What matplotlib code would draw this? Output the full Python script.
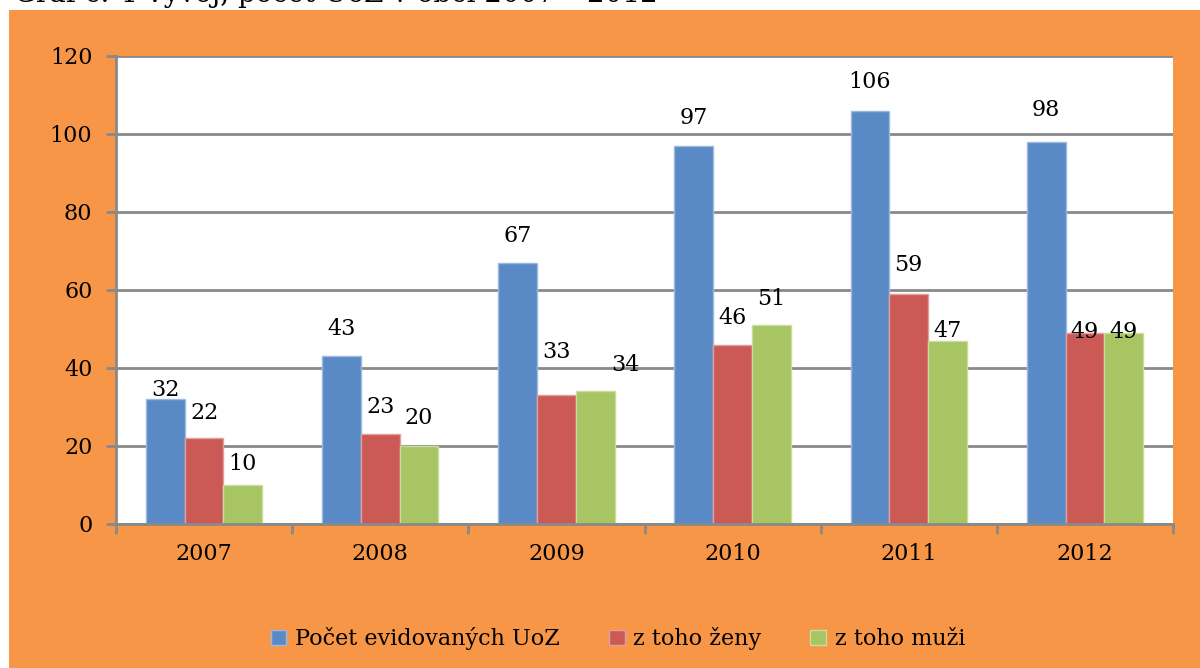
import matplotlib
matplotlib.use("Agg")
import matplotlib.pyplot as plt
from matplotlib.patches import Rectangle
import numpy as np

# data
roky = ["2007", "2008", "2009", "2010", "2011", "2012"]
pocet_uoz = [32, 43, 67, 97, 106, 98]
zeny = [22, 23, 33, 46, 59, 49]
muzi = [10, 20, 34, 51, 47, 49]
nazvy = ["Počet evidovaných UoZ", "z toho ženy", "z toho muži"]

# label offsets above bar top (points), as the original places them
off_uoz = [-1, 12, 11, 12, 13, 15]
off_zeny = [10, 12, 23, 11, 13, -7]
off_muzi = [7, 12, 11, 11, -1, -7]

barvy = ["#5A8AC6", "#CB5956", "#A7C563"]
hrany = ["#9DB8E0", "#E0A09E", "#CADDA0"]
oranzova = "#F79646"
seda = "#898989"

plt.rcParams["font.family"] = ["DejaVu Serif"]
plt.rcParams["font.size"] = 16

fig = plt.figure(figsize=(12, 6.68), dpi=100, facecolor="white")
fig.patches.append(Rectangle((9 / 1200, 0), 1, 658 / 668, transform=fig.transFigure,
                             facecolor=oranzova, edgecolor="none", zorder=-5))
# caption from the page, cut off at the top edge like in the original
fig.text(0.012, 1 - 2 / 668, "Graf č. 4 Vývoj, počet UoZ v obci 2007 – 2012",
         fontsize=20, va="baseline", ha="left", zorder=-4)

ax = fig.add_axes([116 / 1200, (668 - 524) / 668, (1173 - 116) / 1200, (524 - 56) / 668])
ax.set_facecolor("white")

x = np.arange(len(roky))
w = 0.22
serie = [pocet_uoz, zeny, muzi]
offs = [off_uoz, off_zeny, off_muzi]
for k, (vals, o) in enumerate(zip(serie, offs)):
    pos = x + (k - 1) * w
    ax.bar(pos, vals, width=w, color=barvy[k], edgecolor=hrany[k], linewidth=1,
           label=nazvy[k], zorder=3)
    for i in range(len(vals)):
        dx = 0
        if k == 2 and i == 2:
            dx = 22
        ax.annotate(str(vals[i]), (pos[i], vals[i]), xytext=(dx, o[i]),
                    textcoords="offset points", ha="center", va="bottom",
                    fontsize=16, zorder=4)

ax.set_xlim(-0.5, len(roky) - 0.5)
ax.set_ylim(0, 120)
ax.set_yticks(range(0, 121, 20))
ax.set_xticks(x)
ax.set_xticklabels(roky)
ax.set_xticks(np.arange(-0.5, len(roky), 1), minor=True)
ax.tick_params(axis="x", which="major", length=0, pad=14)
ax.tick_params(axis="x", which="minor", length=7, width=2, color=seda)
ax.tick_params(axis="y", length=7, width=2, color=seda, pad=10)

ax.grid(axis="y", color=seda, linewidth=2, zorder=1)
ax.set_axisbelow(True)
for s in ["top", "right"]:
    ax.spines[s].set_visible(False)
for s in ["left", "bottom"]:
    ax.spines[s].set_color(seda)
    ax.spines[s].set_linewidth(2)
    ax.spines[s].set_zorder(5)

ax.legend(loc="center", bbox_to_anchor=(0.475, -0.245), ncol=3, frameon=False,
          handlelength=0.7, handleheight=0.7, handletextpad=0.4, columnspacing=2.2,
          fontsize=16)

fig.savefig("out.png", dpi=100, facecolor="white")
